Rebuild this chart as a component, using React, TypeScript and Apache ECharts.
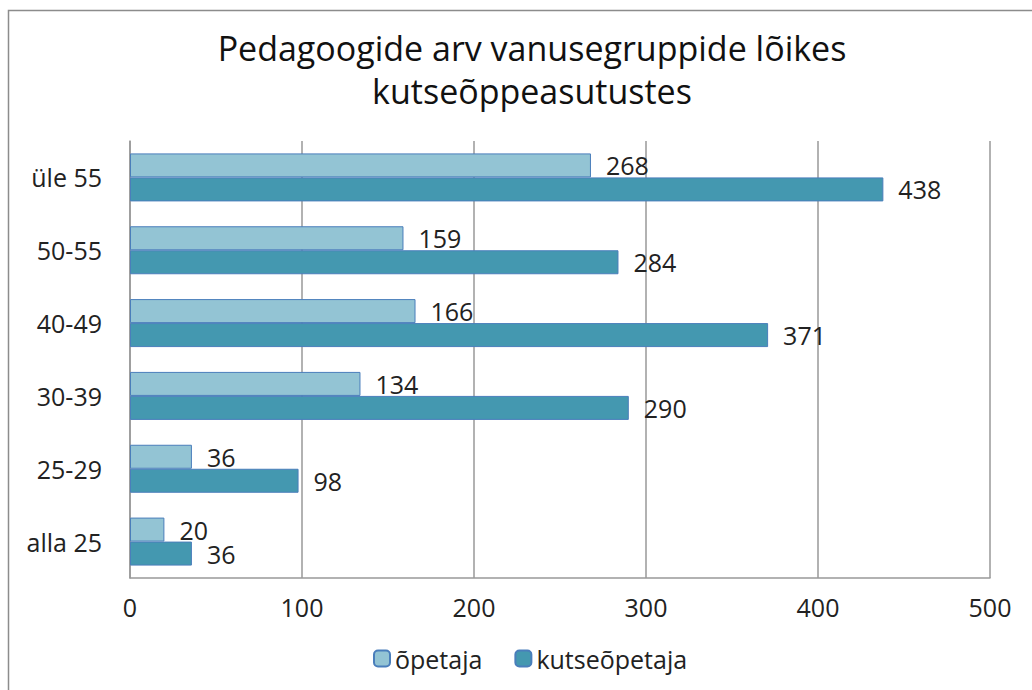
import React, { useEffect, useRef } from "react";
import * as echarts from "echarts";

const categories = ["alla 25", "25-29", "30-39", "40-49", "50-55", "üle 55"];
const opetaja = [20, 36, 134, 166, 159, 268];
const kutseopetaja = [36, 98, 290, 371, 284, 438];
const xTicks = [0, 100, 200, 300, 400, 500];
const titleText = "Pedagoogide arv vanusegruppide lõikes\nkutseõppeasutustes";

const FONT = "Open Sans";

export default function App() {
  const ref = useRef<HTMLDivElement>(null);
  useEffect(() => {
    if (!ref.current) return;
    const chart = echarts.init(ref.current, undefined, { renderer: "svg" });
    const labelStyle = {
      show: true,
      position: "right" as const,
      distance: 15,
      fontFamily: FONT,
      fontSize: 25,
      color: "#222",
    };
    chart.setOption({
      animation: false,
      backgroundColor: "#fff",
      title: {
        text: titleText,
        left: 527,
        top: 21,
        textAlign: "center",
        textStyle: {
          fontFamily: FONT,
          fontSize: 34,
          fontWeight: "normal",
          color: "#111",
          lineHeight: 43,
        },
      },
      graphic: [
        {
          type: "rect",
          shape: { x: 8.5, y: 10.5, width: 1100, height: 800 },
          style: { fill: "none", stroke: "#8c8c8c", lineWidth: 1.5 },
          silent: true,
          z: -1,
        },
      ],
      legend: {
        bottom: 14,
        left: 368,
        data: ["õpetaja", "kutseõpetaja"],
        itemWidth: 16,
        itemHeight: 16,
        itemGap: 32,
        textStyle: { fontFamily: FONT, fontSize: 25, color: "#222" },
      },
      grid: { left: 130, right: 42, top: 141, bottom: 112 },
      xAxis: {
        type: "value",
        min: 0,
        max: 500,
        interval: 100,
        axisLine: { show: true, lineStyle: { color: "#999", width: 1.5 } },
        axisTick: { show: false },
        splitLine: { show: true, lineStyle: { color: "#999", width: 1.5 } },
        axisLabel: {
          fontFamily: FONT,
          fontSize: 25,
          color: "#222",
          margin: 16,
          formatter: (v: number) => (xTicks.includes(v) ? String(v) : ""),
        },
      },
      yAxis: {
        type: "category",
        data: categories,
        axisLine: { show: true, lineStyle: { color: "#999", width: 1.5 } },
        axisTick: { show: false },
        axisLabel: {
          fontFamily: FONT,
          fontSize: 25,
          color: "#222",
          margin: 28,
        },
      },
      series: [
        {
          name: "õpetaja",
          type: "bar",
          data: opetaja,
          barWidth: 24,
          barGap: "0%",
          itemStyle: { color: "#93c4d4", borderColor: "#4a7ebb", borderWidth: 1 },
          label: labelStyle,
        },
        {
          name: "kutseõpetaja",
          type: "bar",
          data: kutseopetaja,
          barWidth: 24,
          barGap: "0%",
          itemStyle: { color: "#4498b0", borderColor: "#4a7ebb", borderWidth: 1 },
          label: labelStyle,
        },
      ],
    });
    return () => chart.dispose();
  }, []);
  return (
    <div
      ref={ref}
      style={{ position: "absolute", left: 0, top: 0, width: 1032, height: 690 }}
    />
  );
}
